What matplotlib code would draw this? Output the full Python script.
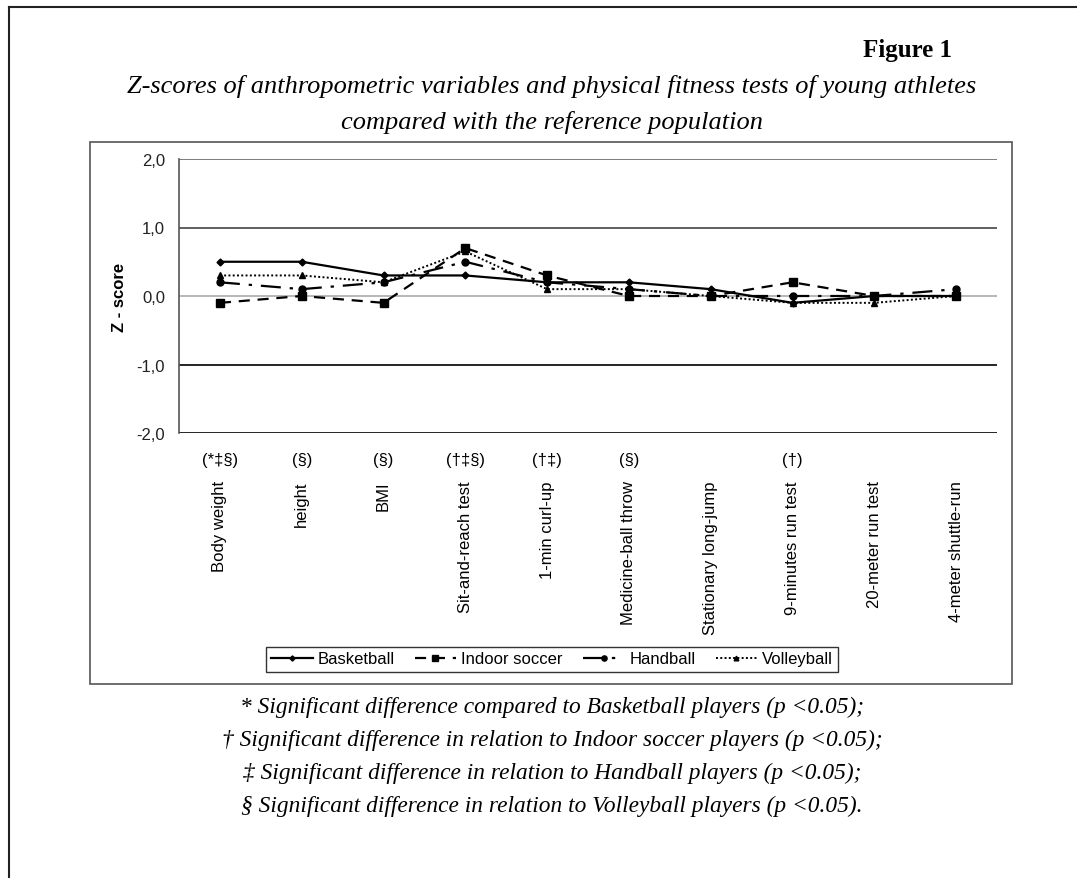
import numpy as np
import matplotlib
matplotlib.use("Agg")
import matplotlib.pyplot as plt
from matplotlib.lines import Line2D
from matplotlib.patches import Rectangle

categories = ["Body weight", "height", "BMI", "Sit-and-reach test", "1-min curl-up",
              "Medicine-ball throw", "Stationary long-jump", "9-minutes run test",
              "20-meter run test", "4-meter shuttle-run"]
signif = ["(*\u2021\u00a7)", "(\u00a7)", "(\u00a7)", "(\u2020\u2021\u00a7)", "(\u2020\u2021)",
          "(\u00a7)", "", "(\u2020)", "", ""]

basketball = [0.5, 0.5, 0.3, 0.3, 0.2, 0.2, 0.1, -0.1, 0.0, 0.0]
indoor_soccer = [-0.1, 0.0, -0.1, 0.7, 0.3, 0.0, 0.0, 0.2, 0.0, 0.0]
handball = [0.2, 0.1, 0.2, 0.5, 0.2, 0.1, 0.0, 0.0, 0.0, 0.1]
volleyball = [0.3, 0.3, 0.2, 0.65, 0.1, 0.1, 0.0, -0.1, -0.1, 0.0]

yticks = [2.0, 1.0, 0.0, -1.0, -2.0]
ytick_labels = ["2,0", "1,0", "0,0", "-1,0", "-2,0"]

footnotes = [
    "* Significant difference compared to Basketball players (p <0.05);",
    "\u2020 Significant difference in relation to Indoor soccer players (p <0.05);",
    "\u2021 Significant difference in relation to Handball players (p <0.05);",
    "\u00a7 Significant difference in relation to Volleyball players (p <0.05).",
]

W, H = 1077, 879
fig = plt.figure(figsize=(W / 100, H / 100), dpi=100)


def fx(px):
    return px / W


def fy(py):
    return 1 - py / H


# page border (cropped box)
fig.add_artist(Line2D([fx(9), fx(9)], [fy(8), 0], color="#222222", lw=1.5))
fig.add_artist(Line2D([fx(9), 1], [fy(8), fy(8)], color="#222222", lw=1.5))

# chart frame
fig.add_artist(Rectangle((fx(90), fy(685)), fx(1012) - fx(90), fy(143) - fy(685),
                         fill=False, ec="#555555", lw=1.2))

serif = ["Liberation Serif", "DejaVu Serif"]
fig.text(fx(952), fy(50), "Figure 1", ha="right", va="center", fontsize=18,
         fontweight="bold", family=serif)
fig.text(fx(552), fy(87), "Z-scores of anthropometric variables and physical fitness tests of young athletes",
         ha="center", va="center", fontsize=19, style="italic", family=serif)
fig.text(fx(552), fy(123), "compared with the reference population",
         ha="center", va="center", fontsize=19, style="italic", family=serif)
for i, line in enumerate(footnotes):
    fig.text(fx(552), fy(707 + i * 33), line, ha="center", va="center", fontsize=16.8,
             style="italic", family=serif)

ax = fig.add_axes([fx(179), fy(434), fx(997) - fx(179), fy(160) - fy(434)])
x = np.arange(len(categories))
sans = ["Liberation Sans", "DejaVu Sans"]

grid_colors = {2.0: "#666666", 1.0: "#444444", 0.0: "#aaaaaa", -1.0: "#000000", -2.0: "#000000"}
for yv, c in grid_colors.items():
    ax.axhline(yv, color=c, lw=1.2, zorder=1)

ax.plot(x, basketball, color="black", lw=1.6, ls="-", marker="D", ms=3.5, label="Basketball", zorder=3)
ax.plot(x, indoor_soccer, color="black", lw=1.6, ls=(0, (5, 3.5)), marker="s", ms=5.5,
        label="Indoor soccer", zorder=3)
ax.plot(x, handball, color="black", lw=1.6, ls=(0, (9, 4, 1.5, 4)), marker="o", ms=5,
        label="Handball", zorder=3)
ax.plot(x, volleyball, color="black", lw=1.4, ls=(0, (1, 1.2)), marker="^", ms=4.5,
        label="Volleyball", zorder=3)

ax.set_xlim(-0.5, len(categories) - 0.5)
ax.set_ylim(-2.0, 2.0)
ax.set_yticks(yticks)
ax.set_yticklabels(ytick_labels, family=sans, fontsize=12, color="#222222")
ax.tick_params(axis="y", length=0, pad=10)
ax.set_xticks(x)
ax.set_xticklabels(categories, rotation=90, ha="center", va="top", family=sans, fontsize=12)
ax.tick_params(axis="x", length=0, pad=34)
for s in ["top", "right", "bottom"]:
    ax.spines[s].set_visible(False)
ax.spines["left"].set_color("#555555")
ax.spines["left"].set_linewidth(1.2)
ax.set_ylabel("Z - score", family=sans, fontsize=12, fontweight="bold", labelpad=7)

for i, s in enumerate(signif):
    if s:
        ax.annotate(s, xy=(i, 0), xycoords=("data", "axes fraction"), xytext=(0, -19),
                    textcoords="offset points", ha="center", va="center",
                    family=sans, fontsize=12)

leg = fig.legend(loc="center", bbox_to_anchor=(fx(552), fy(660)), ncol=4, frameon=True,
                 fancybox=False, edgecolor="black", handlelength=2.5, handletextpad=0.3,
                 columnspacing=1.2, borderpad=0.3, markerscale=0.75,
                 prop={"family": sans, "size": 12})
leg.get_frame().set_linewidth(1.0)

fig.savefig("out.png", dpi=100, facecolor="white")
